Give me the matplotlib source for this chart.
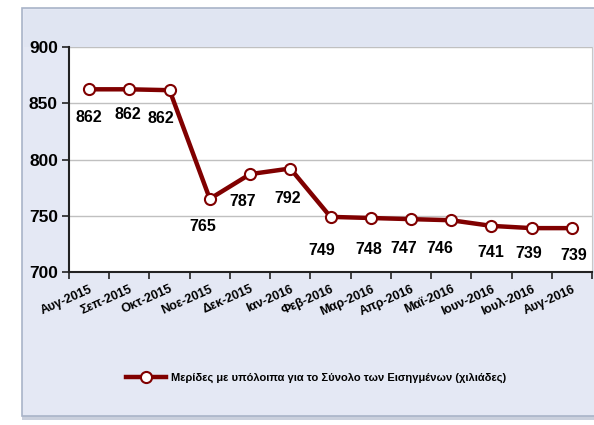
import matplotlib
matplotlib.use("Agg")
import matplotlib.pyplot as plt
from matplotlib.patches import Rectangle

plt.rcParams["font.family"] = ["Liberation Sans Narrow", "Liberation Sans", "DejaVu Sans"]
plt.rcParams["font.weight"] = "bold"

months = ["Αυγ-2015", "Σεπ-2015", "Οκτ-2015", "Νοε-2015", "Δεκ-2015", "Ιαν-2016",
          "Φεβ-2016", "Μαρ-2016", "Απρ-2016", "Μαϊ-2016", "Ιουν-2016", "Ιουλ-2016",
          "Αυγ-2016"]
accounts = [862.4, 862.4, 861.6, 765, 787, 792, 749, 748, 747, 746, 741, 739, 739]
labels = ["862", "862", "862", "765", "787", "792", "749", "748", "747", "746",
          "741", "739", "739"]
series_name = "Μερίδες με υπόλοιπα για το Σύνολο των Εισηγμένων (χιλιάδες)"
y_ticks = [700, 750, 800, 850, 900]

# label offsets in points (Excel placed them "below", nudged to avoid overlap)
label_dx = [0, -1, -6, -5, -5, -2, -6.5, -1.5, -5.5, -8.5, -0.7, -2, 1.5]
label_dy = [-20, -18.5, -20.5, -20, -20, -21.5, -24, -23, -21, -20, -19.5, -18, -19.5]

RED = "#800000"
BG = "#E4E8F4"

fig = plt.figure(figsize=(5.94, 4.25), dpi=100)
fig.patch.set_facecolor("white")

# outer chart panel
fig.patches.append(Rectangle((22 / 594, 5 / 425), 1.0, 412 / 425, transform=fig.transFigure,
                             facecolor="#C9CFDC", edgecolor="none", zorder=-2))
fig.patches.append(Rectangle((22 / 594, 9 / 425), 1.0, 408 / 425, transform=fig.transFigure,
                             facecolor=BG, edgecolor="#A9B4C8", linewidth=1.2, zorder=-1))
fig.patches.append(Rectangle((24 / 594, 1 - 47 / 425), 1.0, 37 / 425, transform=fig.transFigure,
                             facecolor="#E0E5F2", edgecolor="none", zorder=-1))

ax = fig.add_axes([69 / 594, 1 - 272 / 425, 523 / 594, 225 / 425])
ax.set_zorder(2)
ax.set_facecolor("white")

x = list(range(len(months)))
ax.plot(x, accounts, color=RED, linewidth=3.2, marker="o", markersize=8,
        markerfacecolor="white", markeredgecolor=RED, markeredgewidth=1.5,
        label=series_name, zorder=3, solid_joinstyle="round")

for xi, yi, lab, dx, dy in zip(x, accounts, labels, label_dx, label_dy):
    ax.annotate(lab, (xi, yi), xytext=(dx, dy), textcoords="offset points",
                ha="center", va="center", fontsize=11.5, fontweight="bold", color="black")

ax.set_xlim(-0.5, len(months) - 0.5)
ax.set_ylim(700, 900)
ax.set_yticks(y_ticks)
ax.set_yticklabels([str(v) for v in y_ticks], fontsize=12.5, fontweight="bold")
ax.grid(axis="y", color="#C0C0C0", linewidth=1)
ax.set_axisbelow(True)

ax.set_xticks([i - 0.5 for i in x] + [len(months) - 0.5])
ax.set_xticklabels([""] * (len(months) + 1))
ax.set_xticks(x, minor=True)
ax.set_xticklabels(months, minor=True, rotation=24, ha="right", rotation_mode="anchor",
                   fontsize=9, fontweight="bold")
ax.tick_params(axis="x", which="minor", length=0, pad=8)
ax.tick_params(axis="x", which="major", length=5, width=1.2, direction="out", color="#222222")
ax.tick_params(axis="y", length=5, width=1.2, direction="out", color="#222222", pad=3)

ax.spines["top"].set_visible(False)
ax.spines["right"].set_color("#C8C8C8")
ax.spines["left"].set_color("#222222")
ax.spines["left"].set_linewidth(1.5)
ax.spines["bottom"].set_color("#222222")
ax.spines["bottom"].set_linewidth(1.5)

leg = fig.legend(loc="center", bbox_to_anchor=(316 / 594, 1 - 378 / 425), frameon=False,
                 prop={"size": 8, "weight": "bold"}, handlelength=3.6, handletextpad=0.5)

fig.savefig("out.png", dpi=100, facecolor=fig.get_facecolor())
